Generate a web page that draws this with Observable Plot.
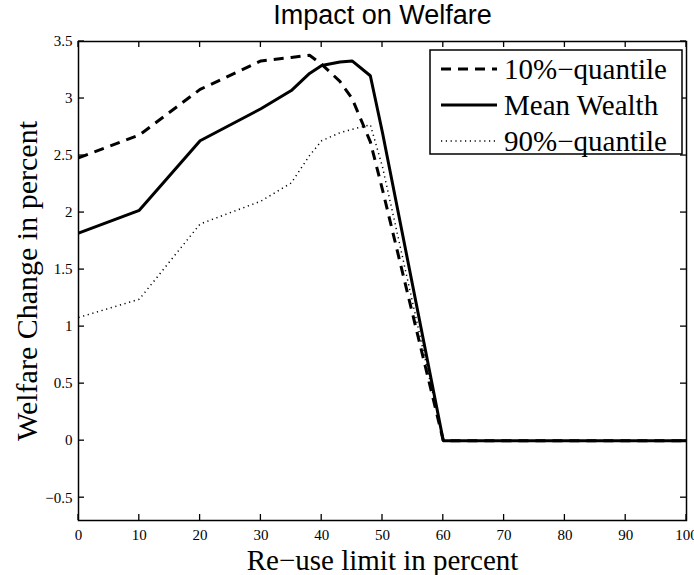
<!DOCTYPE html>
<html><head><meta charset="utf-8">
<script src="https://cdn.jsdelivr.net/npm/d3@7"></script>
<script src="https://cdn.jsdelivr.net/npm/@observablehq/plot@0.6"></script>
<style>body{margin:0;background:#fff;} #chart{position:relative;width:694px;height:575px;}</style>
</head><body><div id="chart"></div>
<script>
const reuse = [0, 10, 20, 30, 35, 38, 40, 43, 45, 48, 50, 60, 70, 80, 90, 100];
const q10   = [2.48, 2.68, 3.08, 3.33, 3.36, 3.38, 3.30, 3.15, 3.00, 2.62, 2.20, 0, 0, 0, 0, 0];
const meanW = [1.82, 2.02, 2.63, 2.91, 3.07, 3.22, 3.29, 3.32, 3.33, 3.20, 2.70, 0, 0, 0, 0, 0];
const q90   = [1.08, 1.24, 1.90, 2.10, 2.26, 2.50, 2.63, 2.70, 2.73, 2.77, 2.40, 0, 0, 0, 0, 0];
const seriesNames = ["10%\u2212quantile", "Mean Wealth", "90%\u2212quantile"];
const xTicks = [0, 10, 20, 30, 40, 50, 60, 70, 80, 90, 100];
const yTicks = [-0.5, 0, 0.5, 1, 1.5, 2, 2.5, 3, 3.5];
const title = "Impact on Welfare";
const xLabel = "Re\u2212use limit in percent";
const yLabel = "Welfare Change in percent";

const seriesValues = [q10, meanW, q90];
const styles = [
  {strokeWidth: 3, strokeDasharray: "10,7"},
  {strokeWidth: 3, strokeDasharray: null},
  {strokeWidth: 1.5, strokeDasharray: "1.2,3.6"}
];
const serif = "'Liberation Serif', 'Times New Roman', serif";
const fmt = d => String(d).replace("-", "\u2212");

const lineMarks = seriesValues.map((vals, s) =>
  Plot.line(reuse.map((x, i) => ({x, y: vals[i]})), {
    x: "x", y: "y", stroke: "#000", strokeWidth: styles[s].strokeWidth,
    strokeDasharray: styles[s].strokeDasharray, strokeLinejoin: "miter", strokeLinecap: "butt"
  })
);

const plot = Plot.plot({
  width: 694, height: 575,
  marginTop: 41, marginBottom: 55, marginLeft: 78, marginRight: 8,
  style: {fontFamily: serif, fontSize: "15px", color: "#000", background: "#fff", overflow: "visible"},
  x: {domain: [0, 100]},
  y: {domain: [-0.7, 3.5]},
  marks: [
    ...lineMarks,
    Plot.axisX(xTicks, {anchor: "bottom", tickSize: 0, tickPadding: 9, label: null, tickFormat: fmt}),
    Plot.axisY(yTicks, {anchor: "left", tickSize: 0, tickPadding: 6, label: null, tickFormat: fmt}),
    Plot.frame({stroke: "#000", strokeWidth: 1.5}),
    Plot.text([title], {frameAnchor: "top", dy: -26, lineAnchor: "middle", textAnchor: "middle",
      fontFamily: "'Liberation Sans', Arial, sans-serif", fontSize: 27, fill: "#000"}),
    Plot.text([xLabel], {frameAnchor: "bottom", dy: 40, lineAnchor: "middle", textAnchor: "middle", fontSize: 29, fill: "#000"}),
    Plot.text([yLabel], {frameAnchor: "left", dx: -51, rotate: -90, lineAnchor: "middle", textAnchor: "middle", fontSize: 30, fill: "#000"})
  ]
});
document.getElementById("chart").appendChild(plot);

const svg = d3.select(plot);
// inward tick marks on all four sides, placed with the plot's own scales
const sx = plot.scale("x"), sy = plot.scale("y");
const [xl, xr] = sx.range, [yb, yt] = sy.range;
const tg = svg.append("g").attr("stroke", "#000").attr("stroke-width", 1.3).attr("fill", "none");
xTicks.forEach(v => {
  const px = sx.apply(v);
  tg.append("line").attr("x1", px).attr("x2", px).attr("y1", yb).attr("y2", yb - 6);
  tg.append("line").attr("x1", px).attr("x2", px).attr("y1", yt).attr("y2", yt + 6);
});
yTicks.forEach(v => {
  const py = sy.apply(v);
  tg.append("line").attr("y1", py).attr("y2", py).attr("x1", xl).attr("x2", xl + 6);
  tg.append("line").attr("y1", py).attr("y2", py).attr("x1", xr).attr("x2", xr - 6);
});

// legend
const lg = svg.append("g");
const box = {x: 430, y: 50, w: 252, h: 104};
lg.append("rect").attr("x", box.x).attr("y", box.y).attr("width", box.w).attr("height", box.h)
  .attr("fill", "#fff").attr("stroke", "#000").attr("stroke-width", 1.5);
seriesNames.forEach((name, i) => {
  const cy = box.y + 19 + i * 36;
  lg.append("line").attr("x1", box.x + 11).attr("x2", box.x + 67).attr("y1", cy).attr("y2", cy)
    .attr("stroke", "#000").attr("stroke-width", styles[i].strokeWidth)
    .attr("stroke-dasharray", styles[i].strokeDasharray);
  lg.append("text").attr("x", box.x + 74).attr("y", cy).attr("dy", "0.35em")
    .attr("text-anchor", "start")
    .attr("font-family", serif).attr("font-size", 29).attr("fill", "#000").text(name);
});
</script>
</body></html>
